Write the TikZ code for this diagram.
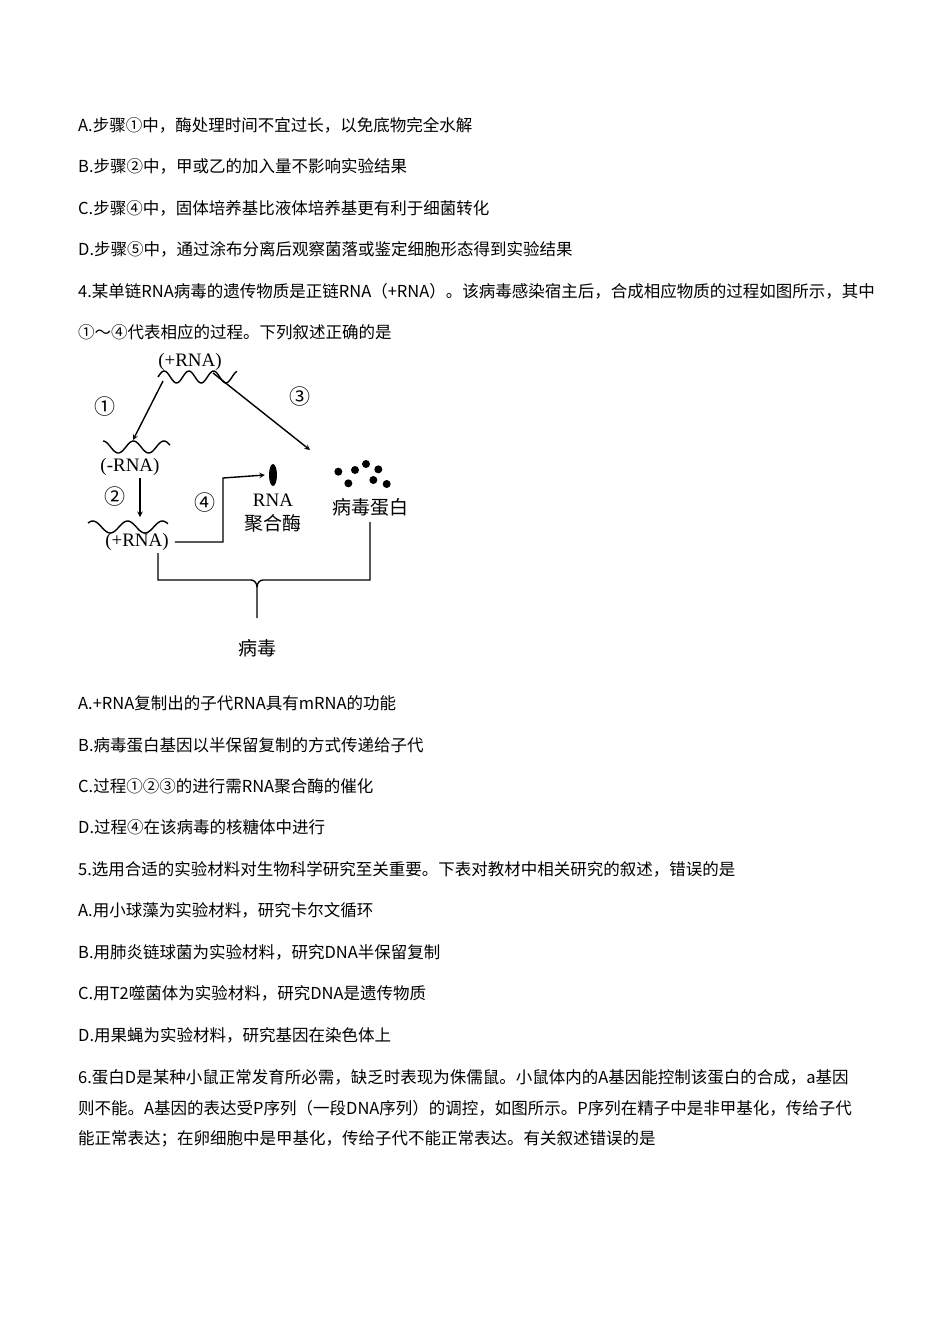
\documentclass[tikz,border=0pt]{standalone}
\usepackage{fontspec}
\usetikzlibrary{shapes.geometric}
\setmainfont{Noto Sans CJK SC}
\newfontfamily\lbl{Liberation Serif}
\begin{document}
\begin{tikzpicture}[x=1pt,y=-1pt,
  txt/.style={anchor=west,inner sep=0pt,font=\fontsize{16.5}{16.5}\selectfont},
  dlbl/.style={inner sep=0pt,font=\fontsize{19}{19}\selectfont},
  num/.style={inner sep=0pt,font=\fontsize{21}{21}\selectfont},
  rlbl/.style={inner sep=0pt,font=\lbl\fontsize{19}{19}\selectfont},
  arr/.style={->,>=stealth,line width=1.4pt},
  ln/.style={line width=1.4pt}]
\useasboundingbox (0,0) rectangle (950,1344);
\node[txt] (t1) at (78,125) {A.步骤①中，酶处理时间不宜过长，以免底物完全水解};
\node[txt] (t2) at (78,166) {B.步骤②中，甲或乙的加入量不影响实验结果};
\node[txt] (t3) at (78,208) {C.步骤④中，固体培养基比液体培养基更有利于细菌转化};
\node[txt] (t4) at (78,249) {D.步骤⑤中，通过涂布分离后观察菌落或鉴定细胞形态得到实验结果};
\node[txt] (t5) at (78,291) {4.某单链RNA病毒的遗传物质是正链RNA（+RNA）。该病毒感染宿主后，合成相应物质的过程如图所示，其中};
\node[txt] (t6) at (78,332) {①～④代表相应的过程。下列叙述正确的是};
\node[txt] (t7) at (78,703) {A.+RNA复制出的子代RNA具有mRNA的功能};
\node[txt] (t8) at (78,745) {B.病毒蛋白基因以半保留复制的方式传递给子代};
\node[txt] (t9) at (78,786) {C.过程①②③的进行需RNA聚合酶的催化};
\node[txt] (t10) at (78,827) {D.过程④在该病毒的核糖体中进行};
\node[txt] (t11) at (78,869) {5.选用合适的实验材料对生物科学研究至关重要。下表对教材中相关研究的叙述，错误的是};
\node[txt] (t12) at (78,910) {A.用小球藻为实验材料，研究卡尔文循环};
\node[txt] (t13) at (78,952) {B.用肺炎链球菌为实验材料，研究DNA半保留复制};
\node[txt] (t14) at (78,993) {C.用T2噬菌体为实验材料，研究DNA是遗传物质};
\node[txt] (t15) at (78,1035) {D.用果蝇为实验材料，研究基因在染色体上};
\node[txt] (t16) at (78,1077) {6.蛋白D是某种小鼠正常发育所必需，缺乏时表现为侏儒鼠。小鼠体内的A基因能控制该蛋白的合成，a基因};
\node[txt] (t17) at (78,1108) {则不能。A基因的表达受P序列（一段DNA序列）的调控，如图所示。P序列在精子中是非甲基化，传给子代};
\node[txt] (t18) at (78,1139) {能正常表达；在卵细胞中是甲基化，传给子代不能正常表达。有关叙述错误的是};
% diagram
\node[rlbl] (p1) at (190,362) {(+RNA)};
\draw[ln,domain=0:1,samples=60] plot ({158+79*\x},{377-6*sin(\x*3.2*360)});
\coordinate (a1s) at (163,381);
\coordinate (a1e) at (133,440);
\coordinate (a3s) at (213,373);
\coordinate (a3e) at (310,450);
\draw[arr] (a1s) -- (a1e);
\draw[arr] (a3s) -- (a3e);
\node[num] (c1) at (105,407) {①};
\node[num] (c3) at (300,397) {③};
\draw[ln,domain=0:1,samples=60] plot ({103+67*\x},{447-6*sin(\x*2.2*360+90)});
\node[rlbl] (m1) at (130,467) {(-RNA)};
\node[num] (c2) at (115,497) {②};
\draw[arr] (140,478) -- (140,517);
\draw[ln,domain=0:1,samples=60] plot ({88+80*\x},{527-6*sin(\x*2.3*360+40)});
\node[rlbl] (p2) at (137,542) {(+RNA)};
\node[num] (c4) at (205,503) {④};
\node[fill=black,ellipse,inner sep=0pt,minimum width=8pt,minimum height=22pt] (pol) at (273,475) {};
\node[rlbl] (rna) at (273,500) {RNA};
\node[dlbl] (jhm) at (273,523) {聚合酶};
\draw[arr] ([xshift=6pt]p2.east) -- (223,542) -- (223,478) -- ([xshift=-4pt]pol.west);
\foreach \u/\v in {775/395,825/390,858/372,895/388,805/430,880/420,920/432}
  \fill ({80+\u/3},{340+\v/3}) circle (4);
\node[dlbl] (dbz) at (370,507) {病毒蛋白};
\draw[ln] (158,553) -- (158,580) -- (251,580) to[out=0,in=90] (257,587) -- (257,618);
\draw[ln] (370,522) -- (370,580) -- (263,580) to[out=180,in=90] (257,587);
\node[dlbl] (bd) at (257,648) {病毒};
\end{tikzpicture}
\end{document}
